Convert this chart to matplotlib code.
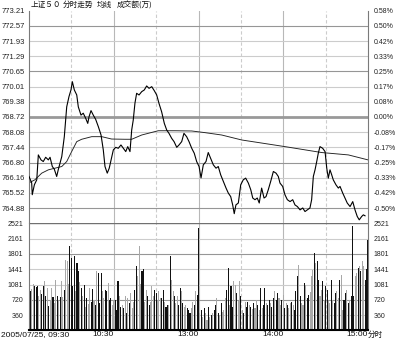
import matplotlib.pyplot as plt
from matplotlib.transforms import blended_transform_factory
import numpy as np

plt.rcParams['font.family'] = ['Liberation Sans', 'DejaVu Sans']
CJK = ['Noto Sans CJK SC', 'DejaVu Sans']

# SSE 50 intraday, 2005/07/25 -- x is minutes of trading after 09:30 (lunch removed)
price_min = [0, 1.9, 2.3, 3.8, 5.5, 6.6, 8.5, 10.1, 11.8, 13.7, 14.9, 16.5, 17.9, 19.6, 20.7,
             23.2, 25.0, 26.7, 28.3, 29.7, 30.7, 32.1, 33.8, 34.9, 36.8, 38.4, 40.1, 41.6, 42.5,
             43.9, 45.5, 47.2, 49.1, 51.0, 52.6, 53.8, 55.4, 56.8, 58.1, 59.7, 61.4, 63.2, 65.1,
             66.8, 68.5, 69.9, 71.5, 72.7, 73.8, 75.0, 76.2, 77.9, 79.8, 81.6, 83.3, 85.0, 86.9,
             88.7, 90.4, 92.0, 93.9, 95.8, 97.5, 99.1, 101.0, 102.7, 104.6, 106.2, 108.1, 109.7,
             111.6, 113.3, 115.2, 117.0, 118.7, 120.4, 121.8, 123.4, 125.3, 126.9, 128.6, 130.5,
             132.4, 134.0, 135.7, 137.6, 139.5, 141.1, 142.8, 144.2, 145.3, 146.5, 148.2, 149.9,
             151.7, 153.4, 155.3, 157.0, 158.4, 160.0, 161.6, 163.0, 164.7, 166.4, 167.8, 169.4,
             171.1, 173.0, 174.9, 176.5, 177.7, 179.6, 181.2, 182.9, 184.8, 186.7, 188.3, 190.0,
             191.9, 193.8, 195.4, 197.0, 198.9, 200.1, 201.3, 202.5, 203.7, 204.8, 206.0, 207.9,
             209.6, 210.8, 211.9, 213.1, 214.3, 215.4, 217.3, 219.0, 220.2, 222.1, 223.7, 225.3,
             227.3, 229.2, 230.8, 232.4, 233.8, 235.5, 236.7, 237.9]
price = [766.21, 765.94, 765.44, 765.86, 766.07, 767.12, 766.91, 766.84, 767.02, 766.91, 767.02,
         766.63, 766.52, 766.21, 766.49, 767.05, 767.89, 769.15, 769.58, 769.86, 770.21, 769.86,
         769.65, 769.15, 768.80, 768.88, 768.67, 768.45, 768.73, 768.99, 768.80, 768.62, 768.31,
         767.96, 767.33, 766.63, 766.35, 766.56, 766.91, 767.33, 767.44, 767.40, 767.54, 767.40,
         767.26, 767.47, 767.26, 768.17, 768.59, 769.30, 769.72, 769.65, 769.79, 769.86, 770.03,
         769.93, 770.00, 769.83, 769.65, 769.30, 768.94, 768.45, 768.17, 768.03, 767.82, 767.68,
         767.44, 767.54, 767.68, 768.03, 767.89, 767.68, 767.40, 767.19, 766.84, 766.63, 766.15,
         766.70, 766.84, 767.22, 766.98, 766.70, 766.56, 766.63, 766.28, 766.00, 765.72, 765.51,
         765.36, 765.01, 764.64, 765.01, 765.09, 765.86, 766.07, 766.14, 765.93, 765.65, 765.30,
         765.23, 765.30, 765.09, 765.72, 765.30, 765.36, 765.65, 766.00, 766.42, 766.35, 766.21,
         765.93, 765.79, 765.44, 765.23, 765.15, 765.23, 765.01, 764.94, 764.80, 764.88, 764.73,
         764.80, 764.88, 765.23, 766.21, 766.49, 766.84, 767.19, 767.47, 767.40, 767.26, 766.56,
         766.14, 766.49, 766.28, 766.07, 765.86, 765.72, 765.79, 765.51, 765.30, 765.09, 764.94,
         765.15, 764.80, 764.52, 764.38, 764.52, 764.59, 764.55]

avg_min = [0, 4.2, 9.0, 13.7, 18.4, 23.2, 26.7, 30.2, 33.8, 37.3, 44.4, 51.5, 58.5, 68.0, 72.7,
           79.8, 91.5, 103.4, 115.2, 124.6, 136.4, 150.6, 181.2, 207.2, 226.1, 240]
avg_price = [765.94, 766.07, 766.35, 766.49, 766.56, 766.63, 766.84, 767.26, 767.68, 767.78,
             767.89, 767.89, 767.79, 767.78, 767.78, 767.96, 768.14, 768.14, 768.13, 768.06,
             767.96, 767.75, 767.47, 767.22, 767.12, 766.91]

# turnover per minute (10k yuan); b = black bar, g = grey bar
vol_am = [1904, 917, 980, 1099, 1035, 1020, 1035, 815, 941, 860,
          1035, 1154, 799, 996, 578, 720, 996, 783, 641, 1178,
          799, 700, 783, 1154, 783, 957, 1667, 1628, 1100, 1983,
          1707, 1035, 1746, 917, 1588, 1391, 1150, 996, 799, 1075,
          562, 759, 620, 996, 680, 973, 720, 600, 1391, 1351,
          641, 1351, 917, 760, 957, 917, 1115, 720, 759, 600,
          720, 720, 483, 1154, 799, 560, 602, 522, 799, 404,
          759, 640, 878, 522, 680, 957, 1509, 1273, 1983, 1100,
          1391, 1446, 680, 957, 799, 600, 680, 1035, 799, 957,
          878, 700, 917, 759, 759, 957, 680, 560, 602, 602,
          1762, 1194, 917, 799, 640, 799, 602, 996, 917, 641,
          560, 602, 522, 483, 404, 522, 680, 600, 917, 838,
          2417]
side_am = ("bbggbbbggb" "bgbgbggbgg" "bgbggbgggb" "bbbgbbgbgb" "gbggbbgbgb" "bbggbbgbbg"
           "gbbbgbgbgb" "gbgggbbggg" "bbggbbgggb" "bgggbbgbbg" "bggbggbbgb" "ggbbbggbgb" "b")
vol_pm = [404, 483, 325, 522, 400, 246, 562, 325, 365, 404,
          480, 602, 759, 404, 365, 641, 440, 483, 759, 957,
          1470, 602, 1035, 562, 1154, 1075, 878, 700, 1154, 815,
          483, 404, 680, 560, 680, 602, 562, 499, 641, 520,
          720, 602, 483, 996, 522, 600, 996, 641, 602, 720,
          641, 560, 759, 917, 720, 878, 759, 600, 720, 838,
          522, 641, 602, 520, 641, 680, 602, 483, 917, 1273,
          1549, 799, 640, 602, 1115, 1075, 759, 838, 900, 1273,
          1430, 1825, 1588, 1628, 1194, 800, 957, 1154, 720, 1035,
          957, 700, 641, 1194, 720, 641, 878, 917, 760, 1194,
          1312, 483, 720, 878, 957, 640, 720, 799, 2456, 799,
          1273, 1351, 1470, 1509, 1391, 1628, 1509, 1194, 1441, 2141]
side_pm = ("gbgbggbgbg" "bbgbgbgggb" "bgbbggbggb" "gbgbbgbgbg" "gbgbgbbgbb" "gbbgbbggbg"
           "bgbggbgbbb" "gbggbgbbgg" "gbgbbggbgb" "bggbgbbggb" "ggbbgbgbbb" "ggbgbggbbb")

prev_close = 768.72
price_labels = ["773.21", "772.57", "771.93", "771.29", "770.65", "770.01", "769.38",
                "768.72", "768.08", "767.44", "766.80", "766.16", "765.52", "764.88"]
pct_labels = ["0.58%", "0.50%", "0.42%", "0.33%", "0.25%", "0.17%", "0.08%",
              "0.00%", "-0.08%", "-0.17%", "-0.25%", "-0.33%", "-0.42%", "-0.50%"]
vol_top = 2521
vol_labels = ["2521", "2161", "1801", "1441", "1081", "720", "360"]
time_ticks = [60, 120, 180, 240]
time_labels = ["10:30", "13:00", "14:00", "15:00"]

# ---------------------------------------------------------------
fig = plt.figure(figsize=(3.96, 3.41), dpi=100)
left, width = 29 / 396, 339 / 396
ax_p = fig.add_axes([left, 0.3449, width, 0.624])
ax_v = fig.add_axes([left, 0.0311, width, 0.3138])

step = (float(price_labels[0]) - prev_close) / 7
p_ticks = [prev_close + step * (7 - k) for k in range(14)]
v_step = vol_top / 7
v_ticks = [vol_top - v_step * k for k in range(7)]

light, dark = '#cccccc', '#969696'

for ax in (ax_p, ax_v):
    ax.set_xlim(0, 240)
    for t in (30, 90, 150, 210):
        ax.axvline(t, color=light, lw=0.8, ls=(0, (3, 2)), zorder=0)
    for t in (60, 120, 180):
        ax.axvline(t, color='#b8b8b8', lw=0.8, zorder=0)
    ax.set_xticks([])
    for s in ('top', 'bottom'):
        ax.spines[s].set_visible(False)
    ax.spines['left'].set_color('#7a7a7a')
    ax.spines['right'].set_color('#7a7a7a')
    ax.spines['left'].set_linewidth(0.8)
    ax.spines['right'].set_linewidth(0.8)

# price grid: every third row darker, prev close thick
ax_p.set_ylim(prev_close - 7 * step, prev_close + 7 * step)
for k, y in enumerate(p_ticks):
    if k == 0:
        continue
    if k == 7:
        ax_p.axhline(y, color='#999999', lw=2.0, zorder=0)
    elif k % 3 == 1:
        ax_p.axhline(y, color=dark, lw=0.8, zorder=0)
    else:
        ax_p.axhline(y, color=light, lw=0.8, zorder=0)

ax_p.plot(avg_min, avg_price, color='#202020', lw=0.65, zorder=2)
ax_p.plot(price_min, price, color='black', lw=0.8, zorder=3)

ax_p.set_yticks(p_ticks, price_labels)
ax_p.tick_params(axis='y', length=0, pad=3, labelsize=5.5, labelcolor='#222222')
axr = ax_p.twinx()
axr.set_ylim(ax_p.get_ylim())
axr.set_yticks(p_ticks, pct_labels)
axr.tick_params(axis='y', length=0, pad=4, labelsize=5, labelcolor='#222222')
for s in axr.spines.values():
    s.set_visible(False)

# volume panel
ax_v.set_ylim(0, vol_top)
for k, y in enumerate(v_ticks):
    if k == 0:
        ax_v.axhline(y, color='#707070', lw=1.0, zorder=0)
    elif k in (2, 5):
        ax_v.axhline(y, color=dark, lw=0.8, zorder=0)
    else:
        ax_v.axhline(y, color=light, lw=0.8, zorder=0)

vol = np.array(vol_am + vol_pm)
side = side_am + side_pm
minutes = np.arange(len(vol))
colors = ['#111111' if c == 'b' else '#a8a8a8' for c in side]
ax_v.bar(minutes, vol, width=0.75, color=colors, linewidth=0, zorder=2)
ax_v.axhline(0, color='black', lw=1.5, zorder=4, clip_on=False)

ax_v.set_yticks(v_ticks, vol_labels)
ax_v.tick_params(axis='y', length=0, pad=4, labelsize=5, labelcolor='#222222')
axvr = ax_v.twinx()
axvr.set_ylim(0, vol_top)
axvr.set_yticks(v_ticks, vol_labels)
axvr.tick_params(axis='y', length=0, pad=4, labelsize=5, labelcolor='#222222')
for s in axvr.spines.values():
    s.set_visible(False)

# time labels, right-aligned on their gridline
tr = blended_transform_factory(ax_v.transData, fig.transFigure)
for t, lab in zip(time_ticks, time_labels):
    ax_v.text(t, 0.019, lab, transform=tr, ha='right', va='center', fontsize=6, color='#111111')
ax_v.text(240, 0.019, '分时', transform=tr, ha='left', va='center', fontsize=5.5,
          family=CJK, color='#111111')
fig.text(1 / 396, 0.019, '2005/07/25, 09:30', ha='left', va='center', fontsize=6, color='#111111')

# header
head_y = 0.985
for x, s in [(31, '上证５０'), (63, '分时走势'), (97, '均线'), (117, '成交额(万)')]:
    fig.text(x / 396, head_y, s, ha='left', va='center', fontsize=5.5, family=CJK, color='#111111')

fig.savefig('out.png', dpi=100)
